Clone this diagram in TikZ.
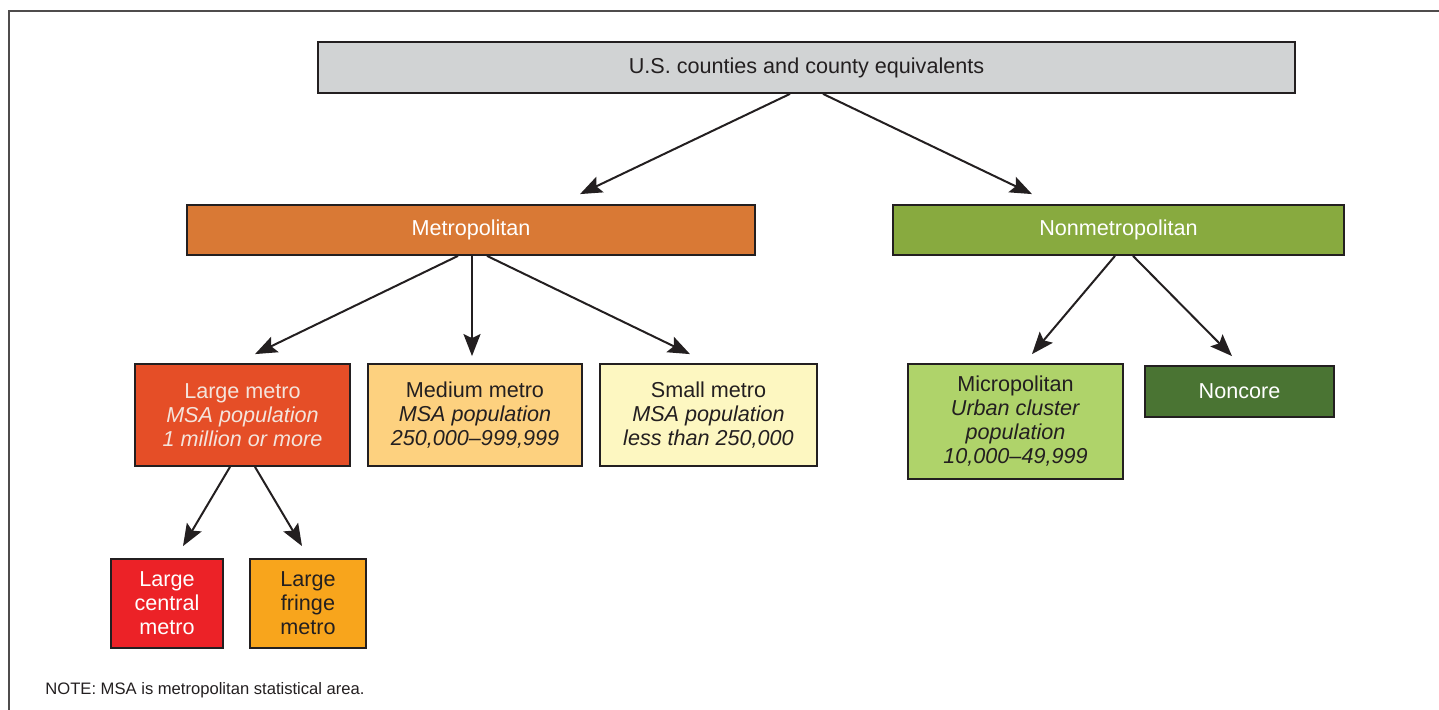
\documentclass[tikz,border=0pt]{standalone}
\usepackage{fontspec}
\setmainfont{Liberation Sans}
\usetikzlibrary{calc,arrows.meta,positioning}
\definecolor{frame}{HTML}{231F20}
\definecolor{countyc}{HTML}{D1D3D4}
\definecolor{metroc}{HTML}{D97935}
\definecolor{nonmetroc}{HTML}{88AA3F}
\definecolor{largec}{HTML}{E54E27}
\definecolor{mediumc}{HTML}{FDD17F}
\definecolor{smallc}{HTML}{FDF7C1}
\definecolor{microc}{HTML}{AFD36A}
\definecolor{noncorec}{HTML}{4A7433}
\definecolor{centralc}{HTML}{EC2227}
\definecolor{fringec}{HTML}{F8A51C}
\definecolor{lighttext}{HTML}{F4E4DC}

\begin{document}
\begin{tikzpicture}[x=0.5pt,y=-0.5pt,
  box/.style={draw=frame,line width=0.9pt,inner sep=0pt,align=center,
    text=frame,font=\fontsize{10.8}{12}\selectfont},
  arr/.style={-{Stealth[length=11pt,width=8.5pt,inset=2pt]},line width=1pt,draw=frame}]

\useasboundingbox (0,0) rectangle (1439,710);
\draw[frame!80,line width=0.8pt] (9,710) -- (9,11) -- (1439,11);

\node [box,fill=countyc,minimum width=488.5pt,minimum height=25.5pt] (top) at (806.5,67.5)
  {U.S. counties and county equivalents};

\node [box,fill=metroc,text=white,minimum width=284pt,minimum height=25pt] (metro) at (471,230)
  {Metropolitan};
\node [box,fill=nonmetroc,text=white,minimum width=225.5pt,minimum height=25pt] (nonmetro) at (1118.5,230)
  {Nonmetropolitan};

% metro sizes
\foreach \n / \x / \w / \col / \txt / \title / \range in
  {large/242.5/107.5/largec/lighttext/{Large metro}/{1 million or more},
   medium/475/107/mediumc/frame/{Medium metro}/{250,000--999,999},
   small/708.5/108.5/smallc/frame/{Small metro}/{less than 250,000}}
  \node [box,fill=\col,text=\txt,minimum width=\w pt,minimum height=51pt] (\n) at (\x,415)
    {\title\\\textit{MSA population}\\\textit{\range}};

% nonmetro parts
\node [box,fill=microc,minimum width=107.5pt,minimum height=57.5pt] (micro) at (1015.5,421.5)
  {Micropolitan\\\textit{Urban cluster}\\\textit{population}\\\textit{10,000--49,999}};
\node [box,fill=noncorec,text=white,minimum width=94.5pt,minimum height=25.5pt] (noncore) at (1239.5,391.5)
  {Noncore};

% large metro parts
\node [box,fill=centralc,text=white,minimum width=56pt,minimum height=44.5pt] (central) at (167,603.5)
  {Large\\central\\metro};
\node [box,fill=fringec,minimum width=58pt,minimum height=44.5pt] (fringe) at (308,603.5)
  {Large\\fringe\\metro};

\node [anchor=west,inner sep=0pt,text=frame,font=\fontsize{8.3}{10}\selectfont] (note) at (45,690)
  {NOTE: MSA is metropolitan statistical area.};

\draw[arr] ($(top.south)+(-16.5,0)$) -- ($(metro.north)+(109,-10)$);
\draw[arr] ($(top.south)+(16.5,0)$) -- ($(nonmetro.north)+(-86.5,-10)$);

\draw[arr] ($(metro.south)+(-13,0)$) -- ($(large.north)+(12.5,-9)$);
\draw[arr] ($(metro.south)+(1,0)$) -- ($(medium.north)+(-3,-7)$);
\draw[arr] ($(metro.south)+(16,0)$) -- ($(small.north)+(-18.5,-9)$);

\draw[arr] ($(nonmetro.south)+(-3.5,0)$) -- ($(micro.north)+(16.5,-9)$);
\draw[arr] ($(nonmetro.south)+(14.5,0)$) -- ($(noncore.north)+(-7.5,-9)$);

\draw[arr] ($(large.south)+(-12.5,0)$) -- ($(central.north)+(16,-12)$);
\draw[arr] ($(large.south)+(12.5,0)$) -- ($(fringe.north)+(-6,-12)$);

\end{tikzpicture}
\end{document}
